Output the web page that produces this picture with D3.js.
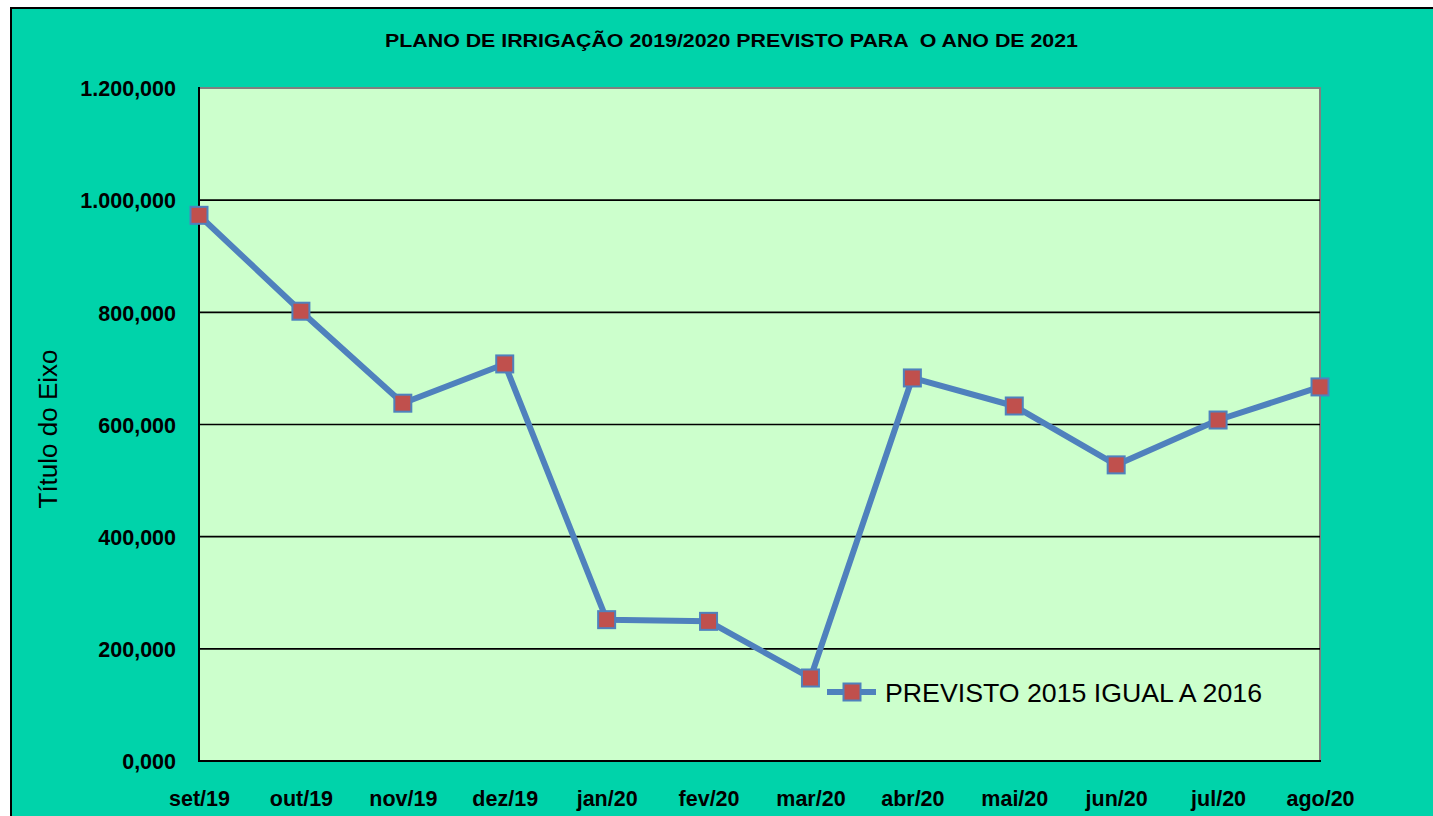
<!DOCTYPE html>
<html>
<head>
<meta charset="utf-8">
<script src="https://cdn.jsdelivr.net/npm/d3@7"></script>
<style>
html,body{margin:0;padding:0;background:#ffffff;overflow:hidden;}
svg{display:block;}
</style>
</head>
<body>
<svg id="chart" width="1433" height="816"></svg>
<script>
const categories = ["set/19","out/19","nov/19","dez/19","jan/20","fev/20","mar/20","abr/20","mai/20","jun/20","jul/20","ago/20"];
const values = [973000, 802000, 638000, 708000, 252000, 249000, 148000, 683000, 633000, 528000, 608000, 667000];
const yTickValues = [0, 200000, 400000, 600000, 800000, 1000000, 1200000];
const yTickLabels = ["0,000","200,000","400,000","600,000","800,000","1.000,000","1.200,000"];
const seriesName = "PREVISTO 2015 IGUAL A 2016";
const titleText = "PLANO DE IRRIGAÇÃO 2019/2020 PREVISTO PARA  O ANO DE 2021";
const yAxisTitle = "Título do Eixo";

const svg = d3.select("#chart");
const W = 1433, H = 816;
const plot = {left: 199, top: 88, right: 1320, bottom: 761};

// outer background
svg.append("rect").attr("x", 11).attr("y", 8).attr("width", W).attr("height", H)
  .attr("fill", "#00D3AA").attr("stroke", "#000").attr("stroke-width", 2);

// plot area
svg.append("rect").attr("x", plot.left).attr("y", plot.top)
  .attr("width", plot.right - plot.left).attr("height", plot.bottom - plot.top)
  .attr("fill", "#CCFFCC").attr("stroke", "#808080").attr("stroke-width", 2);

const x = d3.scalePoint().domain(categories).range([plot.left, plot.right]).padding(0);
const y = d3.scaleLinear().domain([0, 1200000]).range([plot.bottom, plot.top]);

// gridlines
svg.append("g").selectAll("line").data(yTickValues.filter(v => v > 0 && v < 1200000)).join("line")
  .attr("x1", plot.left).attr("x2", plot.right)
  .attr("y1", d => y(d)).attr("y2", d => y(d))
  .attr("stroke", "#000").attr("stroke-width", 1.6);

// axes lines
svg.append("line").attr("x1", plot.left).attr("x2", plot.left).attr("y1", plot.top - 1).attr("y2", plot.bottom)
  .attr("stroke", "#000").attr("stroke-width", 2);
svg.append("line").attr("x1", plot.left - 1).attr("x2", plot.right + 1).attr("y1", plot.bottom).attr("y2", plot.bottom)
  .attr("stroke", "#000").attr("stroke-width", 2);

// y axis via d3
const yAxis = d3.axisLeft(y).tickValues(yTickValues)
  .tickFormat((d, i) => yTickLabels[i]).tickSize(0).tickPadding(23);
const gy = svg.append("g").attr("transform", `translate(${plot.left},0)`).call(yAxis);
gy.select(".domain").remove();
gy.selectAll("text").attr("font-family", "Liberation Sans, Arial, sans-serif")
  .attr("font-size", 21.5).attr("font-weight", "bold").attr("fill", "#000")
  .attr("dy", "0.36em");

// x axis via d3
const xAxis = d3.axisBottom(x).tickSize(0).tickPadding(0);
const gx = svg.append("g").attr("transform", `translate(0,${plot.bottom})`).call(xAxis);
gx.select(".domain").remove();
gx.selectAll("text").attr("font-family", "Liberation Sans, Arial, sans-serif")
  .attr("font-size", 21.5).attr("font-weight", "bold").attr("fill", "#000")
  .attr("y", 45).attr("dy", "0");

// title
svg.append("text").attr("x", 385).attr("y", 47)
  .attr("font-family", "Liberation Sans, Arial, sans-serif")
  .attr("font-size", 18).attr("font-weight", "bold").attr("fill", "#000")
  .style("white-space", "pre")
  .attr("textLength", 693).attr("lengthAdjust", "spacingAndGlyphs")
  .text(titleText);

// y axis title
svg.append("text").attr("transform", "translate(57,429) rotate(-90)")
  .attr("text-anchor", "middle")
  .attr("font-family", "Liberation Sans, Arial, sans-serif")
  .attr("font-size", 26).attr("fill", "#000")
  .text(yAxisTitle);

// series line
const line = d3.line().x((d, i) => x(categories[i])).y(d => y(d));
svg.append("path").datum(values).attr("d", line)
  .attr("fill", "none").attr("stroke", "#4F81BD").attr("stroke-width", 6)
  .attr("stroke-linejoin", "round");

// markers
const ms = 17;
svg.append("g").selectAll("rect").data(values).join("rect")
  .attr("x", (d, i) => x(categories[i]) - ms / 2)
  .attr("y", d => y(d) - ms / 2)
  .attr("width", ms).attr("height", ms)
  .attr("fill", "#C0504D").attr("stroke", "#4F81BD").attr("stroke-width", 2);

// legend
const lg = svg.append("g");
lg.append("line").attr("x1", 827).attr("x2", 876).attr("y1", 692).attr("y2", 692)
  .attr("stroke", "#4F81BD").attr("stroke-width", 6);
lg.append("rect").attr("x", 852 - ms / 2).attr("y", 692 - ms / 2).attr("width", ms).attr("height", ms)
  .attr("fill", "#C0504D").attr("stroke", "#4F81BD").attr("stroke-width", 2);
lg.append("text").attr("x", 885).attr("y", 702)
  .attr("font-family", "Liberation Sans, Arial, sans-serif")
  .attr("font-size", 26.5).attr("fill", "#000")
  .attr("textLength", 377).attr("lengthAdjust", "spacingAndGlyphs")
  .text(seriesName);
</script>
</body>
</html>
